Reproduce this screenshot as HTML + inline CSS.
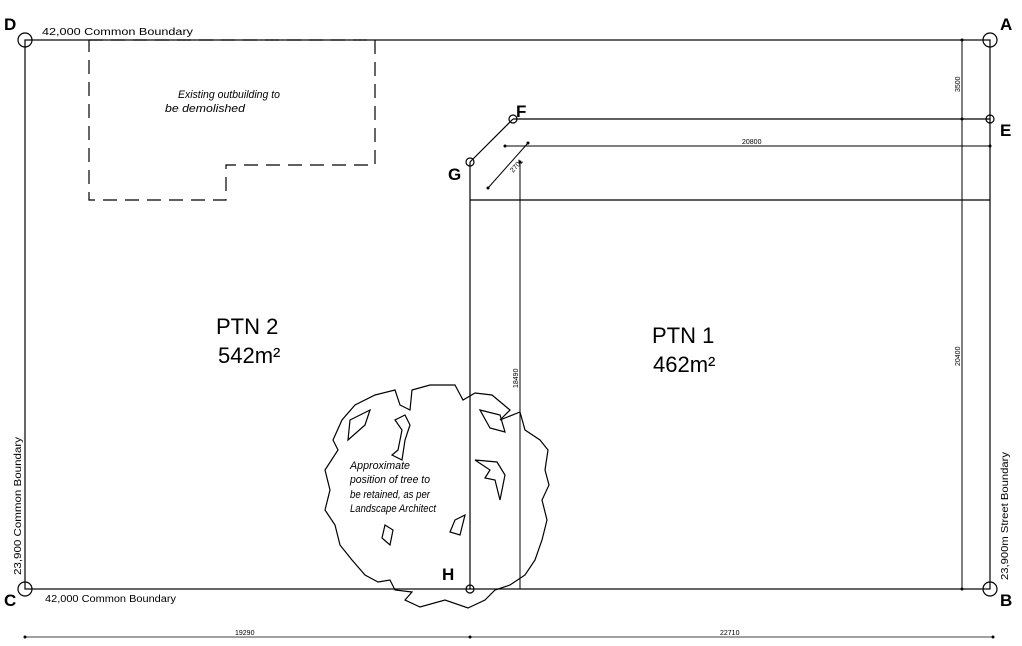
<!DOCTYPE html>
<html><head><style>
body{margin:0;background:#fff;}
svg{display:block;font-family:"Liberation Sans",sans-serif;}
</style></head><body>
<svg width="1022" height="646" viewBox="0 0 1022 646" xmlns="http://www.w3.org/2000/svg">
<g stroke="#000" stroke-width="1.2" fill="none">
<rect x="25" y="40" width="965" height="549"/>
<polyline points="89,40 375,40 375,165 226,165 226,200 89,200 89,40" stroke-dasharray="14,8"/>
<line x1="513" y1="119" x2="990" y2="119"/>
<line x1="470" y1="162" x2="513" y2="119"/>
<line x1="470" y1="162" x2="470" y2="589"/>
<line x1="470" y1="200" x2="990" y2="200"/>
<line x1="520" y1="162" x2="520" y2="589" stroke-width="1"/>
<line x1="962" y1="40" x2="962" y2="589" stroke-width="1"/>
<line x1="505" y1="146" x2="990" y2="146" stroke-width="1"/>
<line x1="488" y1="188" x2="528" y2="143" stroke-width="1"/>
<line x1="25" y1="637" x2="993" y2="637" stroke-width="0.8"/>
<circle cx="25" cy="40" r="7"/><circle cx="990" cy="40" r="7"/>
<circle cx="25" cy="589" r="7"/><circle cx="990" cy="589" r="7"/>
<circle cx="513" cy="119" r="4"/><circle cx="990" cy="119" r="4"/>
<circle cx="470" cy="162" r="4"/><circle cx="470" cy="589" r="4"/>
<path d="M455,385 L463,400 L475,393 L492,395 L510,410 L500,420 L520,412 L525,430 L540,440 L548,450 L545,470 L549,485 L542,500 L547,520 L542,540 L535,560 L525,575 L510,585 L495,590 L485,600 L468,608 L445,600 L420,607 L405,600 L412,592 L395,590 L390,580 L378,582 L365,575 L352,560 L340,545 L335,525 L325,510 L330,490 L325,470 L338,450 L333,440 L342,420 L355,405 L375,395 L395,390 L400,405 L410,410 L412,390 L430,385 Z"/>
<path d="M405,415 L395,420 L402,430 L398,450 L392,455 L402,460 L405,440 L410,425 Z"/>
<path d="M350,420 L370,410 L365,425 L348,440 Z"/>
<path d="M475,460 L490,470 L485,478 L495,480 L500,500 L505,475 L497,462 Z"/>
<path d="M385,525 L393,530 L390,545 L382,538 Z"/>
<path d="M455,520 L465,515 L460,535 L450,532 Z"/>
<path d="M480,410 L500,415 L505,432 L490,428 Z"/>
</g>
<g fill="#000">
<circle cx="520" cy="162" r="1.5"/><circle cx="505" cy="146" r="1.5"/><circle cx="990" cy="146" r="1.5"/>
<circle cx="488" cy="188" r="1.5"/><circle cx="528" cy="143" r="1.5"/>
<circle cx="25" cy="637" r="1.5"/><circle cx="470" cy="637" r="1.5"/><circle cx="993" cy="637" r="1.5"/>
<circle cx="962" cy="40" r="1.5"/><circle cx="962" cy="119" r="1.5"/><circle cx="962" cy="589" r="1.5"/>
</g>
<g font-weight="bold" font-size="17">
<text x="4" y="30">D</text><text x="1000" y="30">A</text>
<text x="4" y="606">C</text><text x="1000" y="606">B</text>
<text x="516" y="117">F</text><text x="1000" y="136">E</text>
<text x="448" y="180">G</text><text x="442" y="580">H</text>
</g>
<g font-size="10">
<text x="42" y="35" textLength="151" lengthAdjust="spacingAndGlyphs">42,000 Common Boundary</text>
<text x="45" y="602" textLength="131" lengthAdjust="spacingAndGlyphs">42,000 Common Boundary</text>
<text transform="translate(21,575) rotate(-90)" textLength="138" lengthAdjust="spacingAndGlyphs">23,900 Common Boundary</text>
<text transform="translate(1008,580) rotate(-90)" textLength="128" lengthAdjust="spacingAndGlyphs">23,900m Street Boundary</text>
</g>
<g font-size="7">
<text x="742" y="144">20800</text>
<text x="235" y="635">19290</text>
<text x="720" y="635">22710</text>
<text transform="translate(960,92) rotate(-90)">3500</text>
<text transform="translate(960,366) rotate(-90)">20400</text>
<text transform="translate(518,388) rotate(-90)">18490</text>
<text transform="translate(513,173) rotate(-48)">2701</text>
</g>
<g font-size="11" font-style="italic">
<text x="178" y="98" textLength="102" lengthAdjust="spacingAndGlyphs">Existing outbuilding to</text>
<text x="165" y="112" textLength="80" lengthAdjust="spacingAndGlyphs">be demolished</text>
<text x="350" y="469" textLength="60" lengthAdjust="spacingAndGlyphs">Approximate</text>
<text x="350" y="483" textLength="80" lengthAdjust="spacingAndGlyphs">position of tree to</text>
<text x="350" y="498" textLength="80" lengthAdjust="spacingAndGlyphs">be retained, as per</text>
<text x="350" y="512" textLength="86" lengthAdjust="spacingAndGlyphs">Landscape Architect</text>
</g>
<g font-size="22">
<text x="216" y="334">PTN 2</text><text x="218" y="363">542m²</text>
<text x="652" y="343">PTN 1</text><text x="653" y="372">462m²</text>
</g>
</svg>
</body></html>
